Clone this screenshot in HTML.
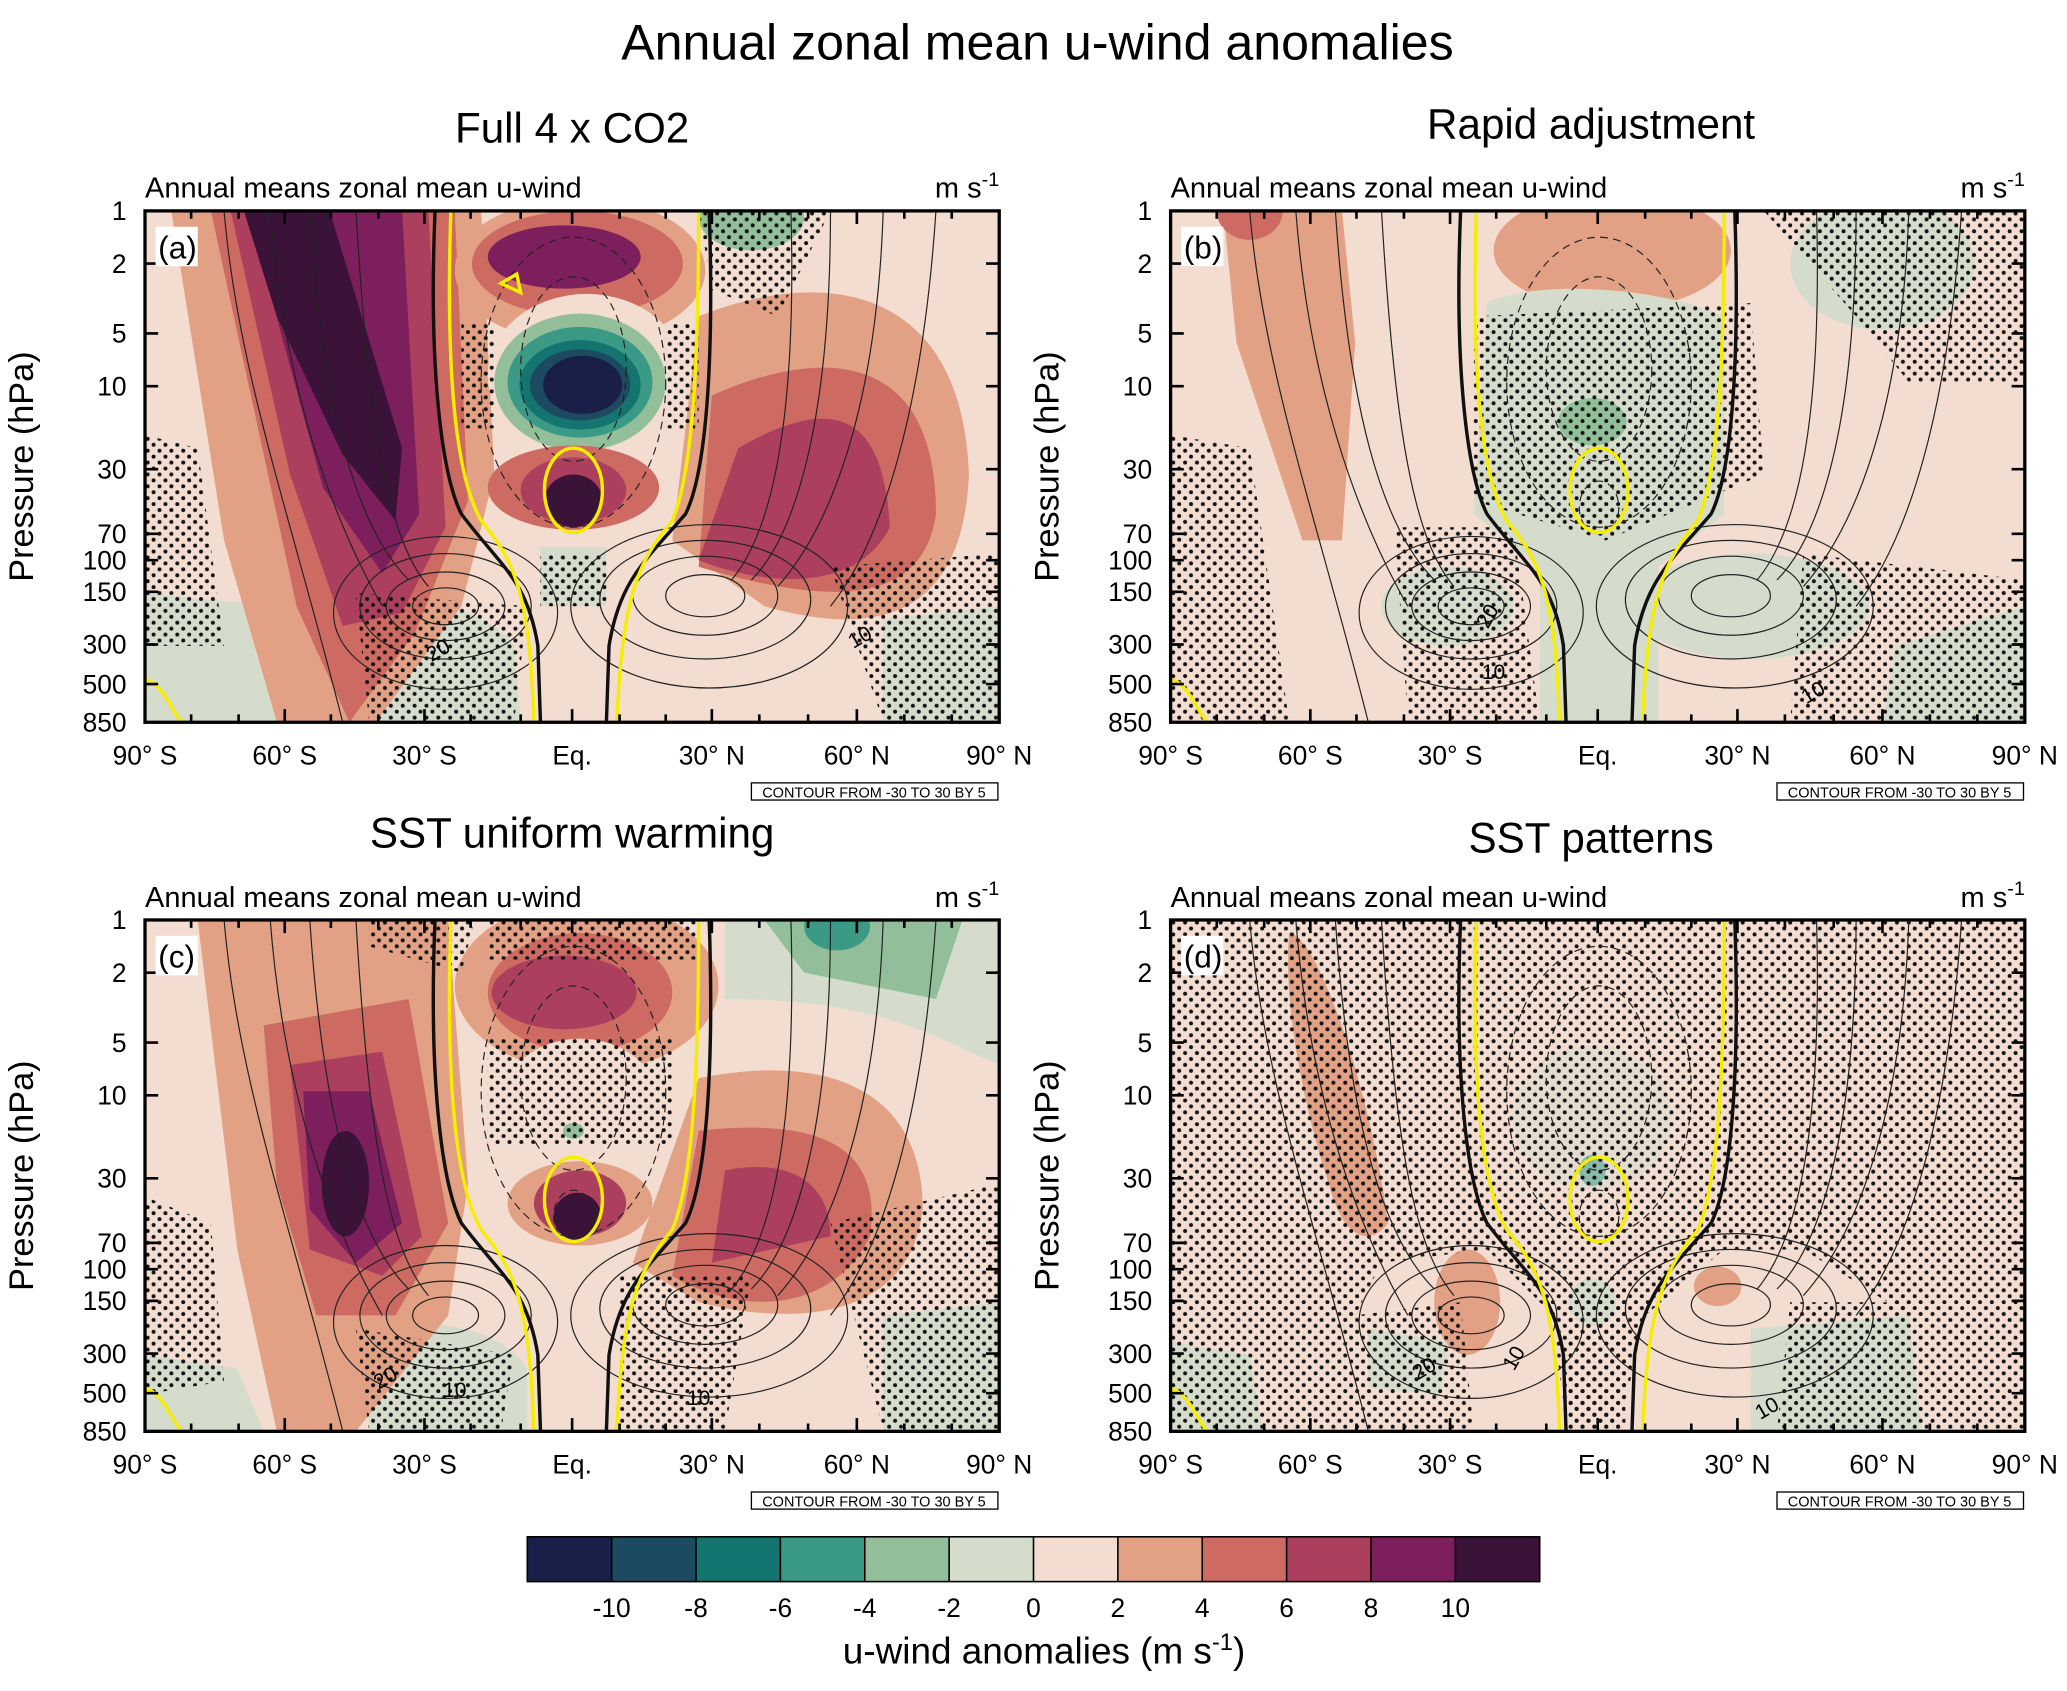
<!DOCTYPE html>
<html><head><meta charset="utf-8"><style>html,body{margin:0;padding:0;background:#fff}svg{display:block}text{font-family:"Liberation Sans",sans-serif}</style></head><body>
<svg width="2067" height="1691" viewBox="0 0 1568 1283" preserveAspectRatio="none" xmlns="http://www.w3.org/2000/svg">
<defs>
<pattern id="st" width="9" height="9" patternUnits="userSpaceOnUse"><circle cx="2" cy="2" r="1.5" fill="#111"/><circle cx="6.5" cy="6.5" r="1.5" fill="#111"/></pattern>
<clipPath id="cp"><rect x="0" y="0" width="648" height="388"/></clipPath>
<g id="lines" fill="none" stroke="#222" stroke-width="0.9">
<ellipse cx="228" cy="300" rx="25" ry="14"/><ellipse cx="228" cy="300" rx="45" ry="26"/><ellipse cx="228" cy="300" rx="65" ry="40"/><ellipse cx="228" cy="305" rx="85" ry="58"/>
<ellipse cx="425" cy="292" rx="30" ry="16"/><ellipse cx="425" cy="292" rx="55" ry="30"/><ellipse cx="425" cy="295" rx="80" ry="45"/><ellipse cx="428" cy="300" rx="105" ry="62"/>
<path d="M60,0 C70,120 110,230 150,388"/><path d="M95,0 C105,130 140,230 180,300"/><path d="M125,0 C135,150 160,240 200,280"/><path d="M160,0 C170,170 185,250 215,285"/>
<path d="M600,0 C590,150 560,250 520,300"/><path d="M560,0 C555,150 520,240 480,285"/><path d="M520,0 C520,170 490,250 460,280"/><path d="M490,0 C495,180 470,250 445,280"/>
<g stroke-dasharray="6,4"><ellipse cx="325" cy="120" rx="40" ry="70"/><ellipse cx="325" cy="130" rx="70" ry="110"/><ellipse cx="325" cy="225" rx="15" ry="20"/></g>
</g>
<g id="zl" fill="none">
<path d="M220,0 C215,120 225,200 240,230 C270,270 290,280 298,330 L300,388" stroke="#111" stroke-width="2.6"/>
<path d="M428,0 C432,120 425,200 410,230 C380,265 360,280 352,330 L350,388" stroke="#111" stroke-width="2.6"/>
<path d="M232,0 C228,120 235,200 255,235 C280,265 292,290 295,388" stroke="#f5ee00" stroke-width="2.6"/>
<path d="M420,0 C420,120 415,200 400,235 C375,265 362,290 358,388" stroke="#f5ee00" stroke-width="2.6"/>
<ellipse cx="325" cy="212" rx="22" ry="32" stroke="#f5ee00" stroke-width="2.6"/>
<path d="M0,355 C15,360 20,380 28,388" stroke="#f5ee00" stroke-width="2.6"/>
</g>
<g id="ax" font-size="20">
<rect x="0" y="0" width="648" height="388" fill="none" stroke="#000" stroke-width="2.5"/>
<g stroke="#000" stroke-width="2">
<path d="M0,0h10M0,40h10M0,93h10M0,133h10M0,196h10M0,245h10M0,265h10M0,289h10M0,329h10M0,359h10M638,0h10M638,40h10M638,93h10M638,133h10M638,196h10M638,245h10M638,265h10M638,289h10M638,329h10M638,359h10"/>
<path d="M0,388v-10M106,388v-10M212,388v-10M324,388v-10M430,388v-10M540,388v-10M648,388v-10M106,0v10M212,0v10M324,0v10M430,0v10M540,0v10"/>
<path d="M35,0v6M71,0v6M141,0v6M177,0v6M247,0v6M285,0v6M360,0v6M395,0v6M466,0v6M503,0v6M576,0v6M612,0v6M35,388v-6M71,388v-6M141,388v-6M177,388v-6M247,388v-6M285,388v-6M360,388v-6M395,388v-6M466,388v-6M503,388v-6M576,388v-6M612,388v-6"/>
</g>
<g text-anchor="end">
<text x="-14" y="7">1</text><text x="-14" y="47">2</text><text x="-14" y="100">5</text><text x="-14" y="140">10</text><text x="-14" y="203">30</text><text x="-14" y="252">70</text><text x="-14" y="272">100</text><text x="-14" y="296">150</text><text x="-14" y="336">300</text><text x="-14" y="366">500</text><text x="-14" y="395">850</text>
</g>
<g text-anchor="middle">
<text x="0" y="420">90° S</text><text x="106" y="420">60° S</text><text x="212" y="420">30° S</text><text x="324" y="420">Eq.</text><text x="430" y="420">30° N</text><text x="540" y="420">60° N</text><text x="648" y="420">90° N</text>
</g>
<text x="0" y="-10" font-size="22">Annual means zonal mean u-wind</text>
<text x="648" y="-10" font-size="22" text-anchor="end">m s<tspan font-size="15" dy="-9">-1</tspan></text>
<text x="-85" y="194" font-size="26" text-anchor="middle" transform="rotate(-90 -85 194)">Pressure (hPa)</text>
<rect x="460" y="434" width="187" height="13" fill="#fff" stroke="#000" stroke-width="1"/>
<text x="553" y="445" font-size="11" text-anchor="middle">CONTOUR FROM -30 TO 30 BY 5</text>
</g>
</defs>

<text x="787" y="45" font-size="38" text-anchor="middle">Annual zonal mean u-wind anomalies</text>
<text x="434" y="108" font-size="32" text-anchor="middle">Full 4 x CO2</text>
<text x="1207" y="105" font-size="32" text-anchor="middle">Rapid adjustment</text>
<text x="434" y="643" font-size="32" text-anchor="middle">SST uniform warming</text>
<text x="1207" y="647" font-size="32" text-anchor="middle">SST patterns</text>

<!-- Panel A -->
<g transform="translate(110,160)">
<g clip-path="url(#cp)">
<rect width="648" height="388" fill="#f3dcd0"/>
<path d="M0,290 L100,300 L110,388 L0,388Z" fill="#d6dccb"/>
<path d="M160,300 C200,290 260,300 280,330 L285,388 L160,388Z" fill="#d6dccb"/>
<path d="M560,310 L648,300 L648,388 L560,388Z" fill="#d6dccb"/>
<ellipse cx="460" cy="5" rx="40" ry="25" fill="#92bf9a"/>
<path d="M20,0 L255,0 L265,200 L240,300 L175,388 L100,388 L60,250Z" fill="#e2a185"/>
<path d="M50,0 L235,0 L245,220 L205,320 L155,388 L115,300Z" fill="#cd6a62"/>
<path d="M65,0 L215,0 L228,240 L195,305 L150,315 L110,200Z" fill="#ad3f5e"/>
<path d="M78,0 L195,0 L208,230 L180,275 L135,210Z" fill="#7d1f5d"/>
<path d="M75,0 L140,0 L195,180 L190,235 L150,185 L100,80Z" fill="#3b1238"/>
<path d="M420,80 C520,40 620,60 625,200 C620,320 540,320 470,300 L400,250Z" fill="#e2a185"/>
<path d="M430,140 C520,100 600,110 600,230 C590,300 520,300 420,270Z" fill="#cd6a62"/>
<path d="M450,180 C520,140 560,150 565,240 C540,290 470,285 420,265Z" fill="#ad3f5e"/>
<ellipse cx="330" cy="45" rx="95" ry="55" fill="#e2a185"/>
<ellipse cx="328" cy="40" rx="80" ry="40" fill="#cd6a62"/>
<ellipse cx="318" cy="35" rx="58" ry="24" fill="#7d1f5d"/>
<ellipse cx="335" cy="125" rx="75" ry="62" fill="#f3dcd0"/>
<ellipse cx="330" cy="130" rx="65" ry="52" fill="#92bf9a"/>
<ellipse cx="330" cy="130" rx="55" ry="42" fill="#3a9a86"/>
<ellipse cx="330" cy="132" rx="46" ry="34" fill="#137470"/>
<ellipse cx="330" cy="132" rx="38" ry="27" fill="#1c4a60"/>
<ellipse cx="332" cy="132" rx="30" ry="22" fill="#1a1f4a"/>
<ellipse cx="325" cy="210" rx="65" ry="32" fill="#cd6a62"/>
<ellipse cx="325" cy="212" rx="40" ry="25" fill="#ad3f5e"/>
<ellipse cx="325" cy="220" rx="22" ry="20" fill="#3b1238"/>
<path d="M300,255 L350,255 L350,300 L300,300Z" fill="#d6dccb"/>
<path d="M0,170 L40,180 L60,330 L0,330Z" fill="url(#st)"/>
<path d="M240,85 L265,85 L265,165 L240,165Z M395,85 L420,85 L420,165 L395,165Z" fill="url(#st)"/>
<path d="M160,290 L290,300 L280,388 L170,388Z" fill="url(#st)"/>
<path d="M420,0 L520,0 L480,80 L430,60Z" fill="url(#st)"/>
<path d="M520,270 L648,260 L648,388 L560,388Z" fill="url(#st)"/>
<path d="M300,260 L350,260 L350,300 L300,300Z" fill="url(#st)"/>
<use href="#lines"/><use href="#zl"/>
<path d="M270,55 L282,48 L285,62Z" fill="none" stroke="#f5ee00" stroke-width="2.6"/>
<text x="225" y="338" font-size="16" text-anchor="middle" transform="rotate(-30 225 338)">20</text>
<text x="545" y="328" font-size="16" text-anchor="middle" transform="rotate(-30 545 328)">10</text>
</g>
</g>

<!-- Panel B -->
<g transform="translate(888,160)">
<g clip-path="url(#cp)">
<rect width="648" height="388" fill="#f3dcd0"/>
<path d="M40,0 L130,0 L140,100 L130,250 L100,250 L50,100Z" fill="#e2a185"/>
<ellipse cx="60" cy="0" rx="25" ry="22" fill="#cd6a62"/>
<ellipse cx="335" cy="30" rx="90" ry="45" fill="#e2a185"/>
<path d="M240,70 C280,50 380,60 420,80 L420,230 L370,270 L370,388 L280,388 L280,270 L230,230Z" fill="#d6dccb"/>
<ellipse cx="320" cy="160" rx="26" ry="18" fill="#92bf9a"/>
<ellipse cx="540" cy="40" rx="70" ry="50" fill="#d6dccb"/>
<ellipse cx="210" cy="300" rx="50" ry="30" fill="#d6dccb"/>
<ellipse cx="440" cy="300" rx="90" ry="40" fill="#d6dccb"/>
<path d="M550,330 L648,300 L648,388 L540,388Z" fill="#d6dccb"/>
<path d="M0,170 L60,180 L90,388 L0,388Z" fill="url(#st)"/>
<path d="M170,240 L260,240 L280,388 L180,388Z" fill="url(#st)"/>
<path d="M230,80 L440,70 L450,200 L330,250 L230,220Z" fill="url(#st)"/>
<path d="M450,0 L648,0 L648,130 L560,130 L520,80Z" fill="url(#st)"/>
<path d="M480,260 L648,280 L648,388 L470,388Z" fill="url(#st)"/>
<use href="#lines"/><use href="#zl"/>
<text x="245" y="310" font-size="16" text-anchor="middle" transform="rotate(-60 245 310)">20</text>
<text x="245" y="355" font-size="16" text-anchor="middle">10</text>
<text x="490" y="370" font-size="16" text-anchor="middle" transform="rotate(-30 490 370)">10</text>
</g>
</g>

<!-- Panel C -->
<g transform="translate(110,698)">
<g clip-path="url(#cp)">
<rect width="648" height="388" fill="#f3dcd0"/>
<path d="M0,330 L70,340 L90,388 L0,388Z" fill="#d6dccb"/>
<path d="M170,310 C220,300 270,310 290,340 L290,388 L170,388Z" fill="#d6dccb"/>
<path d="M560,300 L648,290 L648,388 L560,388Z" fill="#d6dccb"/>
<path d="M440,0 L648,0 L648,110 C600,90 560,60 440,60Z" fill="#d6dccb"/>
<path d="M470,0 L620,0 L600,60 L500,40Z" fill="#92bf9a"/>
<ellipse cx="525" cy="5" rx="25" ry="18" fill="#3a9a86"/>
<path d="M40,0 L230,0 L245,200 L230,300 L160,388 L100,388 L70,250Z" fill="#e2a185"/>
<path d="M90,80 L200,60 L230,230 L190,300 L130,300 L100,200Z" fill="#cd6a62"/>
<path d="M110,110 L180,100 L210,240 L180,270 L125,250Z" fill="#ad3f5e"/>
<path d="M120,130 L170,130 L195,230 L160,260 L125,220Z" fill="#7d1f5d"/>
<ellipse cx="152" cy="200" rx="18" ry="40" fill="#3b1238"/>
<path d="M420,120 C520,100 590,130 590,220 C580,300 500,310 420,290 L370,260Z" fill="#e2a185"/>
<path d="M420,160 C510,150 560,170 550,240 C520,300 450,300 400,270Z" fill="#cd6a62"/>
<path d="M440,190 C490,180 520,200 520,240 L430,260Z" fill="#ad3f5e"/>
<ellipse cx="335" cy="50" rx="100" ry="65" fill="#e2a185"/>
<ellipse cx="330" cy="55" rx="70" ry="45" fill="#cd6a62"/>
<ellipse cx="318" cy="55" rx="55" ry="28" fill="#ad3f5e"/>
<ellipse cx="330" cy="140" rx="60" ry="50" fill="#f3dcd0"/>
<ellipse cx="325" cy="160" rx="8" ry="6" fill="#92bf9a"/>
<ellipse cx="330" cy="215" rx="55" ry="32" fill="#e2a185"/>
<ellipse cx="330" cy="215" rx="35" ry="25" fill="#ad3f5e"/>
<ellipse cx="328" cy="225" rx="18" ry="18" fill="#3b1238"/>
<path d="M0,210 L50,230 L60,350 L0,360Z" fill="url(#st)"/>
<path d="M260,90 L400,90 L400,170 L260,170Z" fill="url(#st)"/>
<path d="M170,0 L250,0 L240,40 L170,20Z" fill="url(#st)"/>
<path d="M260,0 L420,0 L420,30 L260,30Z" fill="url(#st)"/>
<path d="M360,270 L460,270 L440,388 L360,388Z" fill="url(#st)"/>
<path d="M160,310 L280,330 L270,388 L170,388Z" fill="url(#st)"/>
<path d="M520,230 L648,200 L648,388 L560,388Z" fill="url(#st)"/>
<use href="#lines"/><use href="#zl"/>
<text x="185" y="352" font-size="16" text-anchor="middle" transform="rotate(-30 185 352)">20</text>
<text x="235" y="362" font-size="16" text-anchor="middle">10</text>
<text x="420" y="368" font-size="16" text-anchor="middle">10</text>
</g>
</g>

<!-- Panel D -->
<g transform="translate(888,698)">
<g clip-path="url(#cp)">
<rect width="648" height="388" fill="#f3dcd0"/>
<path d="M90,10 C110,10 150,120 165,230 C150,250 130,240 120,200 C100,140 85,60 90,10Z" fill="#e2a185"/>
<ellipse cx="225" cy="290" rx="25" ry="40" fill="#e2a185"/>
<ellipse cx="415" cy="278" rx="18" ry="15" fill="#e2a185"/>
<path d="M0,320 L60,330 L70,388 L0,388Z" fill="#d6dccb"/>
<path d="M150,310 L210,320 L205,360 L150,355Z" fill="#d6dccb"/>
<path d="M440,310 L560,300 L570,388 L440,388Z" fill="#d6dccb"/>
<ellipse cx="320" cy="190" rx="10" ry="12" fill="#3a9a86"/>
<ellipse cx="320" cy="290" rx="18" ry="18" fill="#d6dccb"/>
<ellipse cx="320" cy="150" rx="60" ry="55" fill="#d6dccb" opacity="0.5"/>
<path d="M0,0 L648,0 L648,388 L560,388 L560,300 L480,250 L420,250 L360,300 L340,388 L300,388 L290,300 L240,250 L160,260 L140,300 L140,388 L0,388Z" fill="url(#st)"/>
<path d="M140,300 L220,290 L230,388 L140,388Z" fill="url(#st)"/>
<path d="M470,290 L560,290 L560,388 L460,388Z" fill="url(#st)"/>
<path d="M300,280 L345,280 L345,388 L300,388Z" fill="url(#st)"/>
<use href="#lines"/><use href="#zl"/>
<text x="195" y="345" font-size="16" text-anchor="middle" transform="rotate(-30 195 345)">20</text>
<text x="265" y="335" font-size="16" text-anchor="middle" transform="rotate(-60 265 335)">10</text>
<text x="455" y="375" font-size="16" text-anchor="middle" transform="rotate(-30 455 375)">10</text>
</g>
</g>

<g transform="translate(110,160)"><use href="#ax"/><rect x="8" y="12" width="32" height="30" fill="#fff"/><text x="10" y="36" font-size="24">(a)</text></g>
<g transform="translate(888,160)"><use href="#ax"/><rect x="8" y="12" width="32" height="30" fill="#fff"/><text x="10" y="36" font-size="24">(b)</text></g>
<g transform="translate(110,698)"><use href="#ax"/><rect x="8" y="12" width="32" height="30" fill="#fff"/><text x="10" y="36" font-size="24">(c)</text></g>
<g transform="translate(888,698)"><use href="#ax"/><rect x="8" y="12" width="32" height="30" fill="#fff"/><text x="10" y="36" font-size="24">(d)</text></g>

<!-- Colorbar -->
<g transform="translate(400,1166)">
<rect x="0" y="0" width="64" height="34" fill="#1a1f4a"/>
<rect x="64" y="0" width="64" height="34" fill="#1c4a60"/>
<rect x="128" y="0" width="64" height="34" fill="#137470"/>
<rect x="192" y="0" width="64" height="34" fill="#3a9a86"/>
<rect x="256" y="0" width="64" height="34" fill="#92bf9a"/>
<rect x="320" y="0" width="64" height="34" fill="#d6dccb"/>
<rect x="384" y="0" width="64" height="34" fill="#f3dcd0"/>
<rect x="448" y="0" width="64" height="34" fill="#e2a185"/>
<rect x="512" y="0" width="64" height="34" fill="#cd6a62"/>
<rect x="576" y="0" width="64" height="34" fill="#ad3f5e"/>
<rect x="640" y="0" width="64" height="34" fill="#7d1f5d"/>
<rect x="704" y="0" width="64" height="34" fill="#3b1238"/>
<g stroke="#000" stroke-width="1.2" fill="none"><rect x="0" y="0" width="768" height="34"/><path d="M64,0v34M128,0v34M192,0v34M256,0v34M320,0v34M384,0v34M448,0v34M512,0v34M576,0v34M640,0v34M704,0v34"/></g>
<g font-size="20" text-anchor="middle">
<text x="64" y="61">-10</text><text x="128" y="61">-8</text><text x="192" y="61">-6</text><text x="256" y="61">-4</text><text x="320" y="61">-2</text><text x="384" y="61">0</text><text x="448" y="61">2</text><text x="512" y="61">4</text><text x="576" y="61">6</text><text x="640" y="61">8</text><text x="704" y="61">10</text>
</g>
<text x="392" y="96" font-size="28" text-anchor="middle">u-wind anomalies (m s<tspan font-size="18" dy="-10">-1</tspan><tspan dy="10">)</tspan></text>
</g>
</svg>
</body></html>
